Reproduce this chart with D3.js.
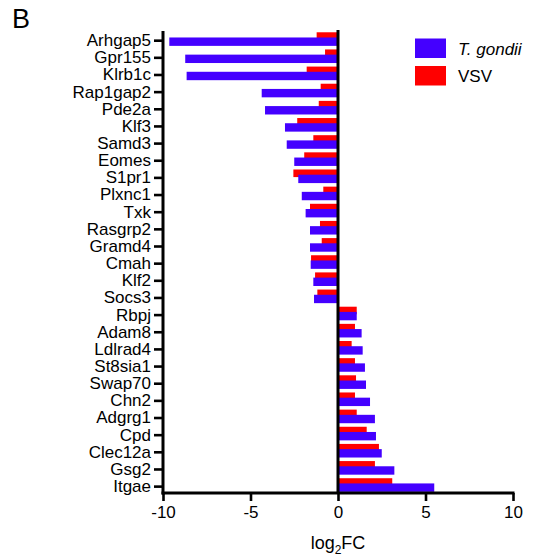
<!DOCTYPE html>
<html>
<head>
<meta charset="utf-8">
<script src="https://cdn.jsdelivr.net/npm/d3@7"></script>
<style>
  body { margin: 0; background: #fff; }
  text { font-family: "Liberation Sans", Arial, sans-serif; fill: #000; }
</style>
</head>
<body>
<script>
// data (log2 fold change)
const genes = ["Arhgap5", "Gpr155", "Klrb1c", "Rap1gap2", "Pde2a", "Klf3", "Samd3", "Eomes",
  "S1pr1", "Plxnc1", "Txk", "Rasgrp2", "Gramd4", "Cmah", "Klf2", "Socs3",
  "Rbpj", "Adam8", "Ldlrad4", "St8sia1", "Swap70", "Chn2", "Adgrg1", "Cpd", "Clec12a", "Gsg2", "Itgae"];
const tgondii = [-9.64, -8.73, -8.65, -4.36, -4.17, -3.03, -2.93, -2.5,
  -2.27, -2.07, -1.85, -1.6, -1.6, -1.56, -1.41, -1.37,
  1.07, 1.35, 1.41, 1.54, 1.6, 1.83, 2.11, 2.17, 2.5, 3.22, 5.5];
const vsv = [-1.22, -0.74, -1.79, -0.99, -1.1, -2.33, -1.41, -1.93,
  -2.55, -0.84, -1.6, -1.03, -0.93, -1.54, -1.31, -1.18,
  1.07, 0.97, 0.78, 0.97, 1.03, 0.97, 1.07, 1.64, 2.34, 2.11, 3.1];
const xTicks = [-10, -5, 0, 5, 10];
const seriesNames = ["T. gondii", "VSV"];

const BLUE = "#4400ff";
const RED = "#ff0000";

const W = 536, H = 560;
const plotLeft = 163, plotRight = 513, plotTop = 31, axisY = 493;

const svg = d3.select("body").append("svg")
  .attr("width", W)
  .attr("height", H);

const xScale = d3.scaleLinear().domain([-10, 10]).range([plotLeft, plotRight]);
const yScale = d3.scaleBand().domain(genes).range([32.1, 495.2]);

// bars: red (VSV) on top, blue (T. gondii) below
const rows = genes.map((g, i) => ({gene: g, tg: tgondii[i], vsv: vsv[i]}));

svg.append("g").selectAll("rect")
  .data(rows)
  .enter()
  .append("rect")
  .attr("x", d => xScale(Math.min(0, d.vsv)))
  .attr("width", d => Math.abs(xScale(d.vsv) - xScale(0)))
  .attr("y", d => yScale(d.gene) + yScale.bandwidth() / 2 - 8.4)
  .attr("height", 7.6)
  .style("fill", RED);

svg.append("g").selectAll("rect")
  .data(rows)
  .enter()
  .append("rect")
  .attr("x", d => xScale(Math.min(0, d.tg)))
  .attr("width", d => Math.abs(xScale(d.tg) - xScale(0)))
  .attr("y", d => yScale(d.gene) + yScale.bandwidth() / 2 - 3.2)
  .attr("height", 8.4)
  .style("fill", BLUE);

// zero line
svg.append("line")
  .attr("x1", xScale(0)).attr("x2", xScale(0))
  .attr("y1", 30).attr("y2", axisY)
  .attr("stroke", "#000")
  .attr("stroke-width", 3);

// y axis
const yAxis = d3.axisLeft(yScale).tickSize(9).tickPadding(3);
const yg = svg.append("g")
  .attr("transform", "translate(" + plotLeft + ",0)")
  .call(yAxis);
yg.select(".domain").remove();
yg.selectAll(".tick line").attr("stroke-width", 2.6).attr("stroke", "#000");
yg.selectAll(".tick text")
  .style("font-size", "17px")
  .style("font-family", "'Liberation Sans', Arial, sans-serif")
  .attr("fill", "#000");
svg.append("line")
  .attr("x1", plotLeft).attr("x2", plotLeft)
  .attr("y1", plotTop).attr("y2", axisY + 1.5)
  .attr("stroke", "#000")
  .attr("stroke-width", 3);

// x axis (plain hyphen for negatives, like the original)
const xAxis = d3.axisBottom(xScale).tickValues(xTicks).tickSize(8).tickPadding(5)
  .tickFormat(d => String(d));
const xg = svg.append("g")
  .attr("transform", "translate(0," + axisY + ")")
  .call(xAxis);
xg.select(".domain").remove();
xg.selectAll(".tick line").attr("stroke-width", 2.6).attr("stroke", "#000");
xg.selectAll(".tick text")
  .style("font-size", "17px")
  .style("font-family", "'Liberation Sans', Arial, sans-serif")
  .attr("fill", "#000");
svg.append("line")
  .attr("x1", plotLeft - 1.5).attr("x2", plotRight + 1.5)
  .attr("y1", axisY).attr("y2", axisY)
  .attr("stroke", "#000")
  .attr("stroke-width", 3);

// x axis title
const xt = svg.append("text")
  .attr("x", xScale(0))
  .attr("y", 549)
  .attr("text-anchor", "middle")
  .style("font-size", "18px");
xt.append("tspan").text("log");
xt.append("tspan").attr("dy", 5).style("font-size", "12px").text("2");
xt.append("tspan").attr("dy", -5).text("FC");

// panel letter
svg.append("text")
  .attr("x", 12)
  .attr("y", 28)
  .style("font-size", "27px")
  .text("B");

// legend
const legend = svg.append("g");
[BLUE, RED].forEach((c, i) => {
  legend.append("rect")
    .attr("x", 415)
    .attr("y", 38.5 + i * 27.5)
    .attr("width", 31)
    .attr("height", 19.5)
    .style("fill", c);
  legend.append("text")
    .attr("x", 458)
    .attr("y", 54.5 + i * 27.5)
    .style("font-size", "17px")
    .style("font-style", i === 0 ? "italic" : "normal")
    .text(seriesNames[i]);
});
</script>
</body>
</html>
